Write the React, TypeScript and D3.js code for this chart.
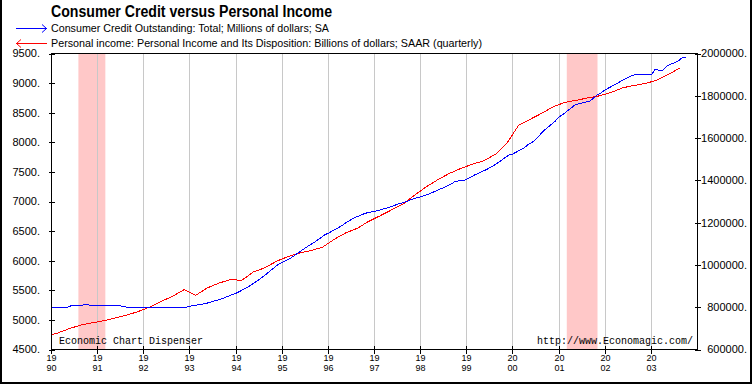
import * as React from 'react';
import * as d3 from 'd3';

// tick labels
const yearTicks = [1990, 1991, 1992, 1993, 1994, 1995, 1996, 1997, 1998, 1999, 2000, 2001, 2002, 2003];
const incomeTicks = [4500, 5000, 5500, 6000, 6500, 7000, 7500, 8000, 8500, 9000, 9500];
const creditTicks = [600000, 800000, 1000000, 1200000, 1400000, 1600000, 1800000, 2000000];

// NBER recessions (fractional years)
const recessions: [number, number][] = [
  [1990.583, 1991.167],
  [2001.167, 2001.833],
];

// Personal income, billions of dollars, SAAR, quarterly from 1989 Q4
const incomeFirstQuarter = 1989.75;
const personalIncome = [
  4723,
  4775, 4850, 4910, 4950,
  4985, 5030, 5080, 5140,
  5215, 5310, 5400, 5512,
  5415, 5540, 5620, 5681,
  5669, 5810, 5880, 5990,
  6070, 6130, 6170, 6230,
  6360, 6470, 6546, 6665,
  6760, 6860, 6960, 7110,
  7250, 7370, 7475, 7560,
  7630, 7690, 7800, 7990,
  8290, 8390, 8490, 8600,
  8675, 8710, 8750, 8785,
  8840, 8920, 8960, 8995,
  9050, 9150, 9258,
];

// Consumer credit outstanding, millions of dollars, SA, monthly from Jan 1990
const creditFirstMonth = 1990;
const consumerCredit = [
  798000, 798000, 798000, 798000, 799000, 806000, 807000, 808000, 810000, 813000, 810000, 808000,
  807000, 807000, 807000, 807000, 807000, 807000, 806000, 802000, 799000, 798000, 798000, 798000,
  798000, 797000, 797000, 797000, 798000, 797000, 797000, 797000, 797000, 798000, 798000, 799000,
  805000, 808000, 811000, 814000, 817000, 822000, 828000, 833000, 838000, 845000, 852000, 860000,
  866000, 875000, 885000, 895000, 906000, 918000, 931000, 944000, 958000, 975000, 988000, 1003000,
  1012000, 1020000, 1030000, 1042000, 1055000, 1068000, 1080000, 1092000, 1103000, 1115000, 1128000, 1142000,
  1150000, 1160000, 1170000, 1180000, 1192000, 1205000, 1215000, 1225000, 1232000, 1240000, 1246000, 1250000,
  1253000, 1258000, 1263000, 1268000, 1273000, 1280000, 1287000, 1292000, 1298000, 1305000, 1312000, 1318000,
  1322000, 1328000, 1334000, 1342000, 1350000, 1358000, 1366000, 1374000, 1383000, 1395000, 1398000, 1399000,
  1405000, 1415000, 1425000, 1433000, 1442000, 1450000, 1460000, 1470000, 1482000, 1495000, 1508000, 1520000,
  1525000, 1535000, 1545000, 1555000, 1570000, 1580000, 1595000, 1615000, 1635000, 1650000, 1665000, 1680000,
  1700000, 1712000, 1726000, 1740000, 1755000, 1762000, 1766000, 1770000, 1775000, 1790000, 1805000, 1815000,
  1828000, 1838000, 1848000, 1858000, 1868000, 1878000, 1888000, 1897000, 1900000, 1900000, 1900000, 1900000,
  1900000, 1925000, 1920000, 1922000, 1940000, 1950000, 1955000, 1965000, 1980000, 1982000,
];

const W = 753;
const H = 386;
const plot = { left: 51.5, right: 697.5, top: 53.5, bottom: 349.5 };
const labelFont = "'Liberation Sans', Arial, sans-serif";
const monoFont = "'Liberation Mono', 'DejaVu Sans Mono', monospace";

type Pt = { t: number; v: number };

export default function App() {
  const x = d3.scaleLinear().domain([1990, 2004]).range([plot.left, plot.right]);
  const yIncome = d3.scaleLinear().domain([4500, 9500]).range([plot.bottom, plot.top]);
  const yCredit = d3.scaleLinear().domain([600000, 2000000]).range([plot.bottom, plot.top]);

  const incomePts: Pt[] = personalIncome.map((v, i) => ({ t: incomeFirstQuarter + i / 4 + 0.125, v }));
  const creditPts: Pt[] = consumerCredit.map((v, i) => ({ t: creditFirstMonth + i / 12, v }));

  const incomeLine = d3.line<Pt>().x(d => x(d.t)).y(d => yIncome(d.v));
  const creditLine = d3.line<Pt>().x(d => x(d.t)).y(d => yCredit(d.v));

  return (
    <svg width={W} height={H} style={{ position: 'absolute', left: 0, top: 0, background: '#fff' }}>
      <defs>
        <clipPath id='plot-clip'>
          <rect x={plot.left} y={plot.top - 1} width={plot.right - plot.left} height={plot.bottom - plot.top + 1} />
        </clipPath>
      </defs>

      {/* title and legend */}
      <text x={51} y={17} fontFamily={labelFont} fontWeight='bold' fontSize={16} textLength={281} lengthAdjust='spacingAndGlyphs'>
        Consumer Credit versus Personal Income
      </text>
      <g stroke='#0000ff' fill='none' shapeRendering='crispEdges'>
        <line x1={16} x2={47} y1={28.5} y2={28.5} />
        <path d='M42,24.5 L46.5,28.5 L42,32.5' shapeRendering='auto' />
      </g>
      <text x={51} y={32} fontFamily={labelFont} fontSize={11} textLength={278} lengthAdjust='spacingAndGlyphs'>
        Consumer Credit Outstanding: Total; Millions of dollars; SA
      </text>
      <g stroke='#ff0000' fill='none' shapeRendering='crispEdges'>
        <line x1={16} x2={47} y1={43.5} y2={43.5} />
        <path d='M21,39.5 L16.5,43.5 L21,47.5' shapeRendering='auto' />
      </g>
      <text x={51} y={47} fontFamily={labelFont} fontSize={11} textLength={431} lengthAdjust='spacingAndGlyphs'>
        Personal income: Personal Income and Its Disposition: Billions of dollars; SAAR (quarterly)
      </text>

      {/* recession shading */}
      {recessions.map(([a, b], i) => (
        <rect key={i} x={x(a)} y={plot.top} width={x(b) - x(a)} height={plot.bottom - plot.top} fill='#ffc8c8' />
      ))}

      {/* vertical grid */}
      <g stroke='#c8c8c8' shapeRendering='crispEdges'>
        {yearTicks.slice(1).map(yr => (
          <line key={yr} x1={x(yr)} x2={x(yr)} y1={plot.top} y2={plot.bottom} />
        ))}
      </g>

      {/* series */}
      <g clipPath='url(#plot-clip)' fill='none' strokeWidth={1} shapeRendering='crispEdges'>
        <path d={incomeLine(incomePts) || ''} stroke='#ff0000' />
        <path d={creditLine(creditPts) || ''} stroke='#0000ff' />
      </g>

      {/* plot box */}
      <rect x={plot.left} y={plot.top} width={plot.right - plot.left} height={plot.bottom - plot.top}
        fill='none' stroke='#000' shapeRendering='crispEdges' />

      {/* left axis */}
      <g shapeRendering='crispEdges'>
        {incomeTicks.map(v => (
          <g key={v}>
            <line x1={plot.left - 3} x2={plot.left + 3} y1={Math.round(yIncome(v)) + 0.5} y2={Math.round(yIncome(v)) + 0.5} stroke='#000' />
            <text x={40} y={yIncome(v)} dy='0.36em' textAnchor='end' fontFamily={labelFont} fontSize={11}>
              {v}.
            </text>
          </g>
        ))}
      </g>

      {/* right axis */}
      <g shapeRendering='crispEdges'>
        {creditTicks.map(v => (
          <g key={v}>
            <line x1={plot.right - 3} x2={plot.right + 3} y1={Math.round(yCredit(v)) + 0.5} y2={Math.round(yCredit(v)) + 0.5} stroke='#000' />
            <text x={747} y={yCredit(v)} dy='0.36em' textAnchor='end' fontFamily={labelFont} fontSize={11}>
              {v}.
            </text>
          </g>
        ))}
      </g>

      {/* bottom axis, two-line year labels */}
      <g shapeRendering='crispEdges'>
        {yearTicks.map(yr => {
          const px = Math.round(x(yr) - 0.5) + 0.5;
          const s = String(yr);
          return (
            <g key={yr}>
              <line x1={px} x2={px} y1={plot.bottom - 4} y2={plot.bottom + 4} stroke='#000' />
              <text x={px} y={360.5} textAnchor='middle' fontFamily={labelFont} fontSize={9}>
                {s.slice(0, 2)}
              </text>
              <text x={px} y={370.5} textAnchor='middle' fontFamily={labelFont} fontSize={9}>
                {s.slice(2)}
              </text>
            </g>
          );
        })}
      </g>

      <text x={59} y={344} fontFamily={monoFont} fontSize={10}>Economic Chart Dispenser</text>
      <text x={693} y={344} textAnchor='end' fontFamily={monoFont} fontSize={10}>http://www.Economagic.com/</text>

      {/* outer frame */}
      <path d='M1,0 V383 H751 V0' fill='none' stroke='#000' strokeWidth={2} />
    </svg>
  );
}
